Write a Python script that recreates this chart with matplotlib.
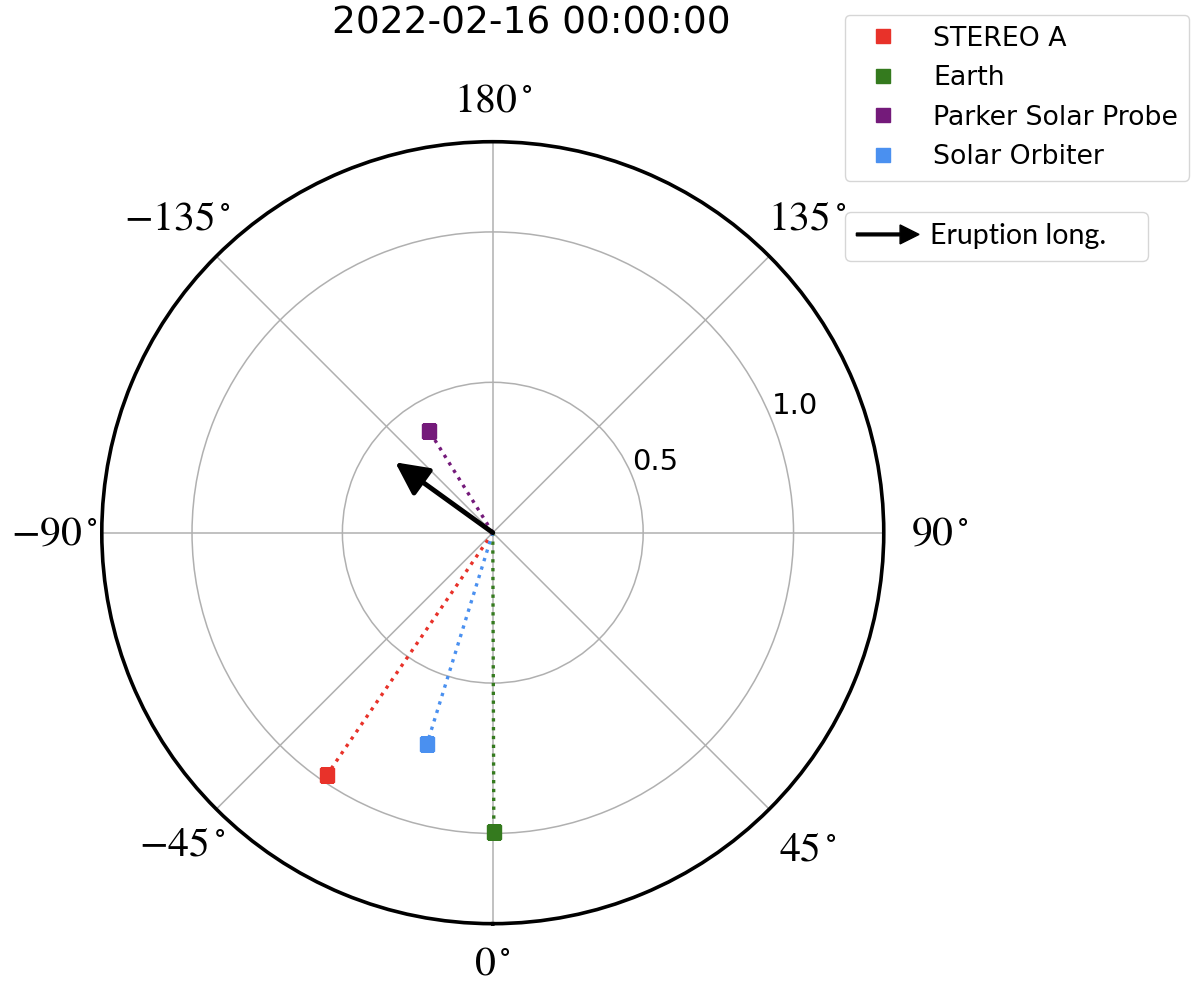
import numpy as np
import matplotlib
matplotlib.use("Agg")
import matplotlib.pyplot as plt
import matplotlib.patches as mpatches
from matplotlib.legend_handler import HandlerPatch

plt.rcParams['mathtext.fontset'] = 'stix'

# ---- data ----
bodies = ['STEREO A', 'Earth', 'Parker Solar Probe', 'Solar Orbiter']
lon_deg = [-34.4, 0.2, -148.0, -17.3]
dist_au = [0.975, 0.995, 0.40, 0.737]
body_colors = ['#e8322a', '#347a1e', '#741a7a', '#4a90f0']
eruption_lon_deg = -125.8
eruption_len = 0.40
title = '2022-02-16 00:00:00'
theta_ticks_deg = [0, 45, 90, 135, 180, -135, -90, -45]
r_ticks = [0.5, 1.0]
r_max = 1.3

# layout: radial placement of the angle labels (outside the frame)
theta_label_r = [1.43, 1.483, 1.487, 1.48, 1.44, 1.483, 1.46, 1.46]

fig = plt.figure(figsize=(12, 9.82), dpi=100)
ax = fig.add_axes([0.0848, 0.0594, 0.6517, 0.7963], projection='polar')
ax.set_theta_zero_location('S')
ax.set_theta_direction(1)

for name, lon, r, c in zip(bodies, lon_deg, dist_au, body_colors):
    th = np.deg2rad(lon) % (2 * np.pi)
    ax.plot([th, th], [0, r], ls=':', color=c, lw=2.4, zorder=3)
    ax.plot([th], [r], 's', ms=10, color=c, label=name, zorder=4, ls='none')

ax.annotate('', xy=(np.deg2rad(eruption_lon_deg) % (2 * np.pi), eruption_len), xytext=(0, 0),
            arrowprops=dict(arrowstyle='-|>,head_length=1.0,head_width=0.5',
                            mutation_scale=20, lw=3.5, color='k',
                            shrinkA=0, shrinkB=0), zorder=5)

ax.set_xticks(np.deg2rad(np.array(theta_ticks_deg) % 360))
ax.set_xticklabels([])
ax.set_thetalim(0, 2 * np.pi)
ax.set_ylim(0, r_max)
ax.set_yticks(r_ticks)
ax.set_yticklabels([f'{v:.1f}' for v in r_ticks])
ax.set_rlabel_position(112)
ax.tick_params(axis='y', labelsize=21)
ax.grid(True, color='#b0b0b0', lw=1.1)
ax.spines['polar'].set_linewidth(2.6)

for d, rl in zip(theta_ticks_deg, theta_label_r):
    ax.text(np.deg2rad(d % 360), rl, f'${d}^\\circ$', fontsize=30,
            ha='center', va='center', clip_on=False)

fig.text(531.5 / 1200, 1 - 24 / 982, title, ha='center', va='center', fontsize=27)

leg1 = fig.legend(loc='upper left', bbox_to_anchor=(845 / 1200, 1 - 15 / 982),
                  borderaxespad=0, fontsize=19.3, numpoints=1, frameon=True,
                  handletextpad=0.9)


def make_arrow(legend, orig_handle, xdescent, ydescent, width, height, fontsize):
    return mpatches.FancyArrow(-xdescent, 0.5 * height - ydescent, width, 0,
                               length_includes_head=True, width=0.14 * height,
                               head_width=0.95 * height, head_length=0.95 * height,
                               color='k')


arrow_proxy = mpatches.FancyArrow(0, 0, 1, 0, color='k')
leg2 = fig.legend(handles=[arrow_proxy], labels=['Eruption long.'],
                  handler_map={mpatches.FancyArrow: HandlerPatch(patch_func=make_arrow)},
                  loc='upper left', mode='expand',
                  bbox_to_anchor=(845 / 1200, 1 - 258 / 982, 303 / 1200, 46 / 982),
                  borderaxespad=0, handlelength=2.2, handletextpad=0.4,
                  prop={'family': 'Lato', 'size': 20.5})

fig.savefig('out.png', dpi=100)
